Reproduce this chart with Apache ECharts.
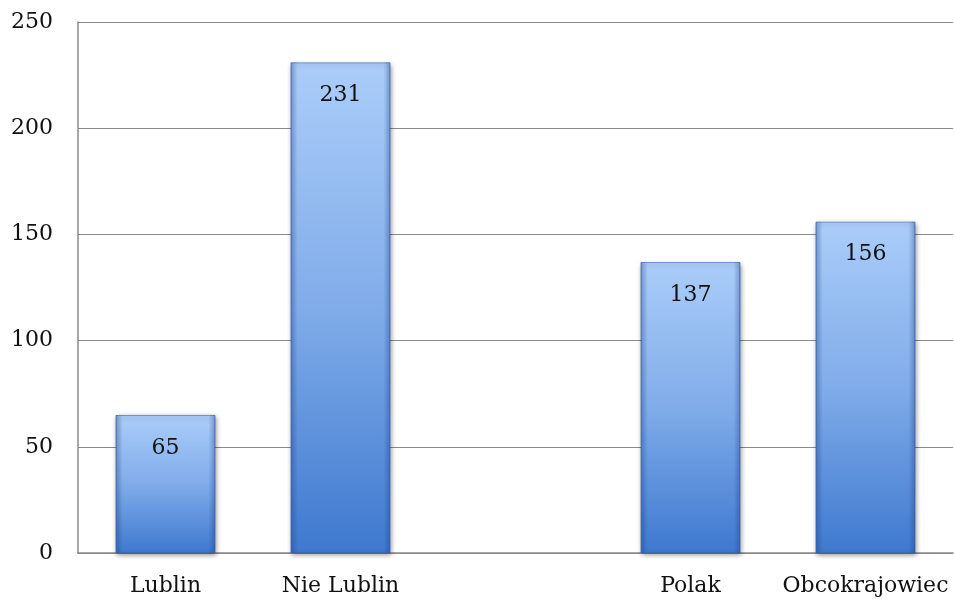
<!DOCTYPE html>
<html>
<head>
<meta charset="utf-8">
<script src="https://cdn.jsdelivr.net/npm/echarts@6/dist/echarts.min.js"></script>
<style>html,body{margin:0;padding:0;background:#fff}#c{width:954px;height:599px}</style>
</head>
<body>
<div id="c"></div>
<script>
const categories = ['Lublin', 'Nie Lublin', '', 'Polak', 'Obcokrajowiec'];
const values = [65, 231, null, 137, 156];
const yTicks = [0, 50, 100, 150, 200, 250];

const chart = echarts.init(document.getElementById('c'), null, {renderer: 'canvas'});
const font = 'DejaVu Serif';
chart.setOption({
  animation: false,
  grid: {left: 78, right: 1, top: 22, bottom: 46},
  xAxis: {
    type: 'category',
    data: categories,
    axisLine: {lineStyle: {color: '#8a8a8a', width: 1.5}},
    axisTick: {show: false},
    axisLabel: {color: '#111', fontFamily: font, fontSize: 22, margin: 22, interval: 0, hideOverlap: false}
  },
  yAxis: {
    type: 'value',
    min: yTicks[0], max: yTicks[yTicks.length - 1], interval: 50,
    axisLine: {show: true, lineStyle: {color: '#8a8a8a', width: 1.5}},
    axisTick: {show: false},
    splitLine: {lineStyle: {color: '#8a8a8a', width: 1.2}},
    axisLabel: {color: '#111', fontFamily: font, fontSize: 22, margin: 25}
  },
  series: [{
    type: 'bar',
    data: values,
    barWidth: '57%',
    barGap: '-100%',
    itemStyle: {
      color: new echarts.graphic.LinearGradient(0, 0, 0, 1, [
        {offset: 0, color: '#abcdf9'},
        {offset: 0.5, color: '#80ace9'},
        {offset: 1, color: '#3e79cf'}
      ]),
      borderColor: 'rgba(50,100,180,0.6)',
      borderWidth: 1,
      shadowColor: 'rgba(0,0,0,0.4)',
      shadowBlur: 5,
      shadowOffsetX: 1,
      shadowOffsetY: 2
    },
    label: {
      show: true,
      position: 'insideTop',
      distance: 22,
      color: '#111',
      fontFamily: font,
      fontSize: 22
    },
    z: 2
  }, {
    type: 'bar',
    data: values,
    barWidth: '57%',
    barGap: '-100%',
    silent: true,
    itemStyle: {
      color: new echarts.graphic.LinearGradient(0, 0, 1, 0, [
        {offset: 0, color: 'rgba(25,60,140,0.35)'},
        {offset: 0.07, color: 'rgba(25,60,140,0)'},
        {offset: 0.93, color: 'rgba(25,60,140,0)'},
        {offset: 1, color: 'rgba(25,60,140,0.35)'}
      ])
    },
    label: {show: false},
    z: 3
  }]
});
</script>
</body>
</html>
